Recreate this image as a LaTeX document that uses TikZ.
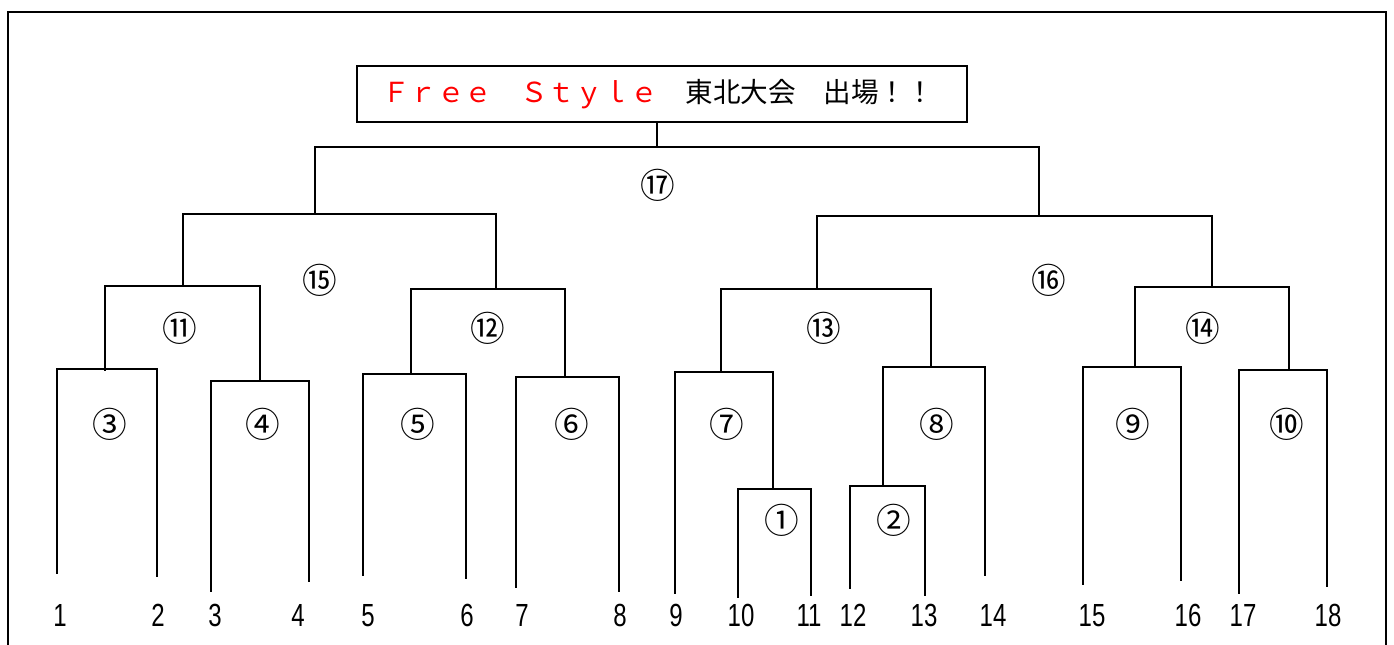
\documentclass[tikz,border=0pt]{standalone}
\usepackage{fontspec}
\setmainfont{Liberation Sans}
\newfontfamily\jpfont{Noto Sans CJK JP}
\definecolor{titlered}{RGB}{255,0,0}
\begin{document}
\begin{tikzpicture}[x=0.75pt,y=-0.75pt,
  line/.style={line width=1.5pt, line cap=rect},
  circnum/.style={font=\jpfont\fontsize{26}{30}\selectfont, inner sep=0pt},
  seed/.style={font=\fontsize{24}{28}\selectfont, inner sep=0pt, anchor=base},
  titlebox/.style={draw, line width=1.6pt, minimum width=457.5pt, minimum height=42pt, inner sep=0pt}]
\useasboundingbox (0,0) rectangle (1394,644);
% frame
\draw[line width=1.6pt] (8,650) -- (8,12) -- (1386,12) -- (1386,650);
% title
\node[titlebox] (title) at (662,94) {};
\node[inner sep=0pt, font=\jpfont\fontsize{20.7}{24}\selectfont] (titletext) at (658,94)
  {\textcolor{titlered}{Ｆｒｅｅ　Ｓｔｙｌｅ}　東北大会　出場！！};
\coordinate (top) at (657,147);
\draw[line] (top |- title.south) -- (top);
% round 17
\draw[line] (315,214) |- (1039,147) -- (1039,216);
% 15, 16
\draw[line] (183,286) |- (496,214) -- (496,289);
\draw[line] (817,289) |- (1212,216) -- (1212,287);
% 11-14
\draw[line] (105,370) |- (260,286) -- (260,381);
\draw[line] (411,374) |- (565,289) -- (565,377);
\draw[line] (721,372) |- (931,289) -- (931,367);
\draw[line] (1135,367) |- (1289,287) -- (1289,370);
% 3-10
\draw[line] (57,573) |- (157,369) -- (157,576);
\draw[line] (211,591) |- (309,381) -- (309,581);
\draw[line] (363,575) |- (466,374) -- (466,578);
\draw[line] (516,587) |- (619,377) -- (619,591);
\draw[line] (675,593) |- (773,372) -- (773,489);
\draw[line] (883,486) |- (985,367) -- (985,575);
\draw[line] (1083,584) |- (1181,367) -- (1181,580);
\draw[line] (1239,593) |- (1327,370) -- (1327,586);
% 1, 2
\draw[line] (738,597) |- (811,489) -- (811,595);
\draw[line] (850,588) |- (925,486) -- (925,595);
% match labels
\node[circnum] (m17) at (658,185) {⑰};
\node[circnum] (m15) at (320,280) {⑮};
\node[circnum] (m16) at (1049,280) {⑯};
\node[circnum] (m11) at (180,328) {⑪};
\node[circnum] (m12) at (488,328) {⑫};
\node[circnum] (m13) at (824,328) {⑬};
\node[circnum] (m14) at (1203,328) {⑭};
\node[circnum] (m3) at (110,424) {③};
\node[circnum] (m4) at (263,424) {④};
\node[circnum] (m5) at (418,424) {⑤};
\node[circnum] (m6) at (572,424) {⑥};
\node[circnum] (m7) at (727,424) {⑦};
\node[circnum] (m8) at (937,424) {⑧};
\node[circnum] (m9) at (1133,424) {⑨};
\node[circnum] (m10) at (1287,424) {⑩};
\node[circnum] (m1) at (782,520) {①};
\node[circnum] (m2) at (894,520) {②};
% seeds
\foreach \n/\x in {1/60,2/158,3/215,4/298,5/368,6/467,7/522,8/620,9/676,10/741,11/809,12/853,13/924,14/993,15/1092,16/1188,17/1243,18/1328}
  \node[seed] (s\n) at (\x,626) {\scalebox{0.75}[1]{\n}};
\end{tikzpicture}
\end{document}
